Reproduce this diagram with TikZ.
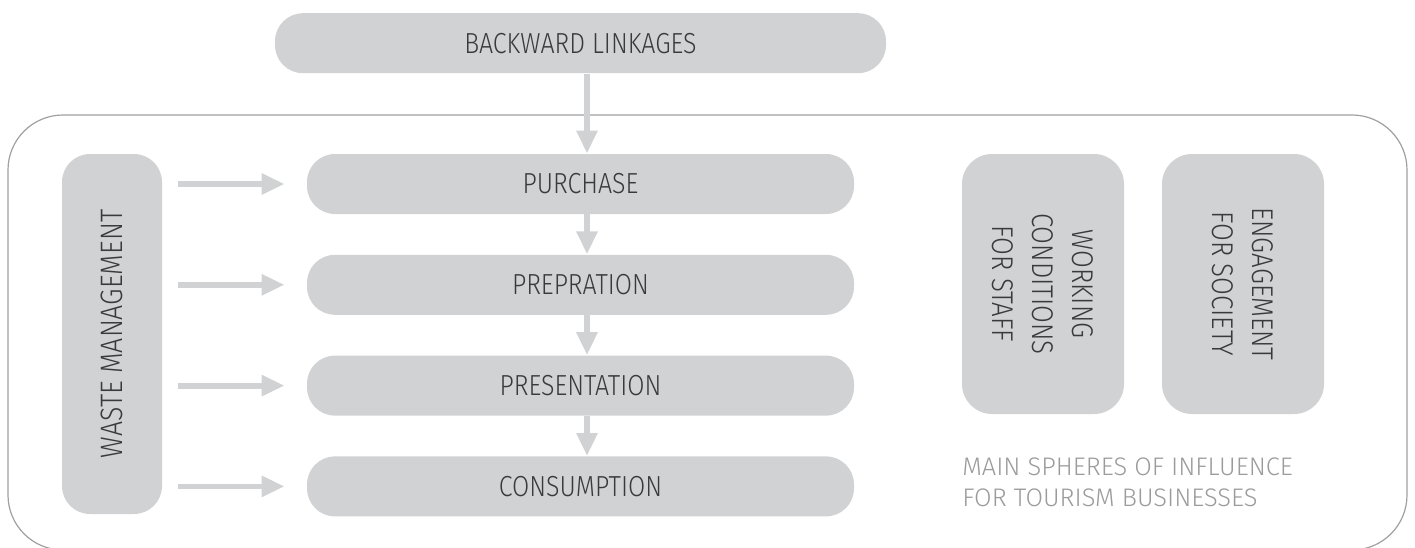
\documentclass[tikz,border=0pt]{standalone}
\usepackage{fontspec}
\newfontfamily\boxfont{Fira Sans Light}[FakeStretch=0.86]
\newfontfamily\notefont{Fira Sans Light}
\usetikzlibrary{positioning,arrows.meta}
\definecolor{boxgray}{HTML}{D1D2D4}
\definecolor{labelgray}{HTML}{3A3A3A}
\definecolor{notegray}{HTML}{9B9B9B}
\definecolor{framegray}{HTML}{A0A0A0}
\tikzset{
  stage/.style={fill=boxgray, rounded corners=14pt, inner sep=0pt,
    minimum width=273.5pt, minimum height=30pt, text=labelgray,
    font=\boxfont\fontsize{14.5}{19}\selectfont},
  sphere/.style={stage, align=center, rotate=-90,
    minimum width=130pt, minimum height=81pt, rounded corners=15pt,
    font=\boxfont\fontsize{15}{20}\selectfont},
  flow/.style={draw=boxgray, line width=2.9pt,
    -{Triangle[width=10pt,length=11.5pt]}},
  frame/.style={draw=framegray, line width=0.6pt, rounded corners=27.5pt},
  note/.style={text=notegray, align=left, anchor=west, inner sep=0pt,
    font=\notefont\fontsize{12.7}{15.5}\selectfont},
}

\begin{document}
\begin{tikzpicture}[x=0.5pt, y=-0.5pt, node distance=20pt]
  \useasboundingbox (0,0) rectangle (1415,547);
  \draw[frame] (8,115) rectangle (1407,550);

  % Nodes
  \node[stage]                        (pur)  at (580.5,184) {PURCHASE};
  \node[stage, below=of pur]          (prep) {PREPRATION};
  \node[stage, below=of prep]         (pres) {PRESENTATION};
  \node[stage, below=of pres]         (cons) {CONSUMPTION};
  \node[stage, above=40pt of pur, minimum width=305.5pt] (back) {BACKWARD LINKAGES};
  \node[stage, rotate=90, minimum width=180pt, minimum height=50pt,
    font=\boxfont\fontsize{15.5}{19}\selectfont] (waste) at (112,334) {WASTE MANAGEMENT};
  \node[sphere]                       (work) at (1043,284) {WORKING\\CONDITIONS\\FOR STAFF};
  \node[sphere]                       (soc)  at (1243,284) {ENGAGEMENT\\FOR SOCIETY};
  \node[note]                         (main) at (962,482) {MAIN SPHERES OF INFLUENCE\\FOR TOURISM BUSINESSES};

  % Edges
  \foreach \a/\b in {back/pur, pur/prep, prep/pres, pres/cons}
    \draw[flow] ([xshift=3.25pt]\a.south) -- ([xshift=3.25pt]\b.north);
  \foreach \s in {pur, prep, pres, cons}
    \draw[flow, shorten <=8pt, shorten >=11pt] (waste.south |- \s.west) -- (\s.west);
\end{tikzpicture}
\end{document}
